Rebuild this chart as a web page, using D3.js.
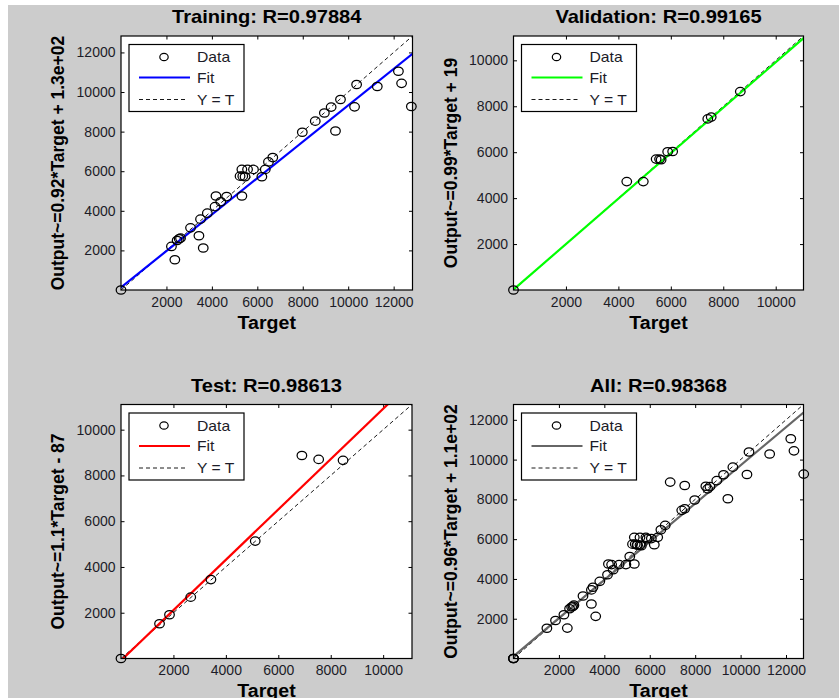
<!DOCTYPE html>
<html>
<head>
<meta charset="utf-8">
<script src="https://cdn.jsdelivr.net/npm/d3@7"></script>
<style>
  body { margin: 0; background: #fff; }
  svg { display: block; }
  text { font-family: Arial, "Liberation Sans", sans-serif; }
</style>
</head>
<body>
<svg id="fig" width="839" height="698"></svg>
<script>
// Regression data: network targets vs. outputs per subset
const trainTarget = [0, 2220, 2370, 2470, 2560, 2620, 3060, 3430, 3500, 3620, 3800, 4140, 4180, 4390, 4650, 5320, 5240, 5360, 5320, 5460, 5570, 5830, 6200, 6350, 6490, 6680, 7980, 8550, 8950, 9250, 9660, 9440, 10280, 10370, 11280, 12210, 12350, 12780];
const trainOutput = [0, 2200, 1530, 2500, 2590, 2620, 3140, 2740, 3580, 2120, 3880, 4210, 4750, 4460, 4720, 4750, 5750, 5750, 6090, 5720, 6090, 6090, 5720, 6090, 6470, 6690, 7970, 8530, 8940, 9240, 9620, 8030, 9250, 10380, 10280, 11050, 10440, 9270];

const valTarget = [0, 4320, 4950, 5440, 5570, 5630, 5880, 6070, 7410, 7540, 8650];
const valOutput = [0, 4720, 4720, 5700, 5700, 5670, 6020, 6030, 7450, 7530, 8640];

const testTarget = [0, 1470, 1850, 2660, 3430, 5120, 6900, 7540, 8470];
const testOutput = [0, 1520, 1910, 2680, 3450, 5130, 8870, 8700, 8660];

// "All" combines every subset
const allTarget = trainTarget.concat(valTarget, testTarget);
const allOutput = trainOutput.concat(valOutput, testOutput);

const ticks12k = [2000, 4000, 6000, 8000, 10000, 12000];
const ticks10k = [2000, 4000, 6000, 8000, 10000];

const panelTitles = ["Training: R=0.97884", "Validation: R=0.99165", "Test: R=0.98613", "All: R=0.98368"];
const fitLabels = ["Output~=0.92*Target + 1.3e+02", "Output~=0.99*Target + 19", "Output~=1.1*Target - 87", "Output~=0.96*Target + 1.1e+02"];
const fitSlope = [0.92, 0.99, 1.1, 0.96];
const fitIntercept = [130, 19, -87, 110];
const axisMax = [12830, 11060, 11100, 12770];
const legendNames = ["Data", "Fit", "Y = T"];

// ---- drawing ----
const svg = d3.select("#fig");
svg.append("rect").attr("x", 8).attr("y", 5).attr("width", 831).attr("height", 693).attr("fill", "#cccccc");

const fitColors = ["#0000ff", "#00ff00", "#ff0000", "#666666"];
const boxes = [
  { l: 121, t: 36, r: 412.5, b: 290 },
  { l: 513.5, t: 36, r: 803.5, b: 290 },
  { l: 121, t: 404.5, r: 412, b: 658.5 },
  { l: 513.5, t: 404.5, r: 803.5, b: 658.5 }
];
const panelData = [
  { tx: trainTarget, ty: trainOutput, ticks: ticks12k },
  { tx: valTarget, ty: valOutput, ticks: ticks10k },
  { tx: testTarget, ty: testOutput, ticks: ticks10k },
  { tx: allTarget, ty: allOutput, ticks: ticks12k }
];

const stretch = 1.15;
const tickColor = "#1c1c28";

panelData.forEach((pd, i) => {
  const bx = boxes[i];
  const x = d3.scaleLinear().domain([0, axisMax[i]]).range([bx.l, bx.r]);
  const y = d3.scaleLinear().domain([0, axisMax[i]]).range([bx.b, bx.t]);
  const g = svg.append("g");

  g.append("rect").attr("x", bx.l).attr("y", bx.t)
    .attr("width", bx.r - bx.l).attr("height", bx.b - bx.t).attr("fill", "#fff");

  const clipId = "clip" + i;
  g.append("clipPath").attr("id", clipId).append("rect")
    .attr("x", bx.l).attr("y", bx.t).attr("width", bx.r - bx.l).attr("height", bx.b - bx.t);

  // axes with inward ticks on all four sides
  const fmt = d3.format("d");
  const axB = g.append("g").attr("transform", `translate(0,${bx.b})`)
    .call(d3.axisBottom(x).tickValues(pd.ticks).tickFormat(fmt).tickSizeInner(-3.5).tickSizeOuter(0).tickPadding(7));
  const axL = g.append("g").attr("transform", `translate(${bx.l},0)`)
    .call(d3.axisLeft(y).tickValues(pd.ticks).tickFormat(fmt).tickSizeInner(-3.5).tickSizeOuter(0).tickPadding(5.5));
  const axT = g.append("g").attr("transform", `translate(0,${bx.t})`)
    .call(d3.axisTop(x).tickValues(pd.ticks).tickFormat("").tickSizeInner(-3.5).tickSizeOuter(0));
  const axR = g.append("g").attr("transform", `translate(${bx.r},0)`)
    .call(d3.axisRight(y).tickValues(pd.ticks).tickFormat("").tickSizeInner(-3.5).tickSizeOuter(0));
  [axB, axL, axT, axR].forEach(a => {
    a.select(".domain").remove();
    a.selectAll("line").attr("stroke", "#000");
    a.selectAll("text").attr("font-size", 14).attr("fill", tickColor)
      .attr("font-family", "Arial, 'Liberation Sans', sans-serif");
  });

  const plot = g.append("g").attr("clip-path", `url(#${clipId})`);
  const maxV = axisMax[i];
  // Y = T reference
  plot.append("line")
    .attr("x1", x(0)).attr("y1", y(0)).attr("x2", x(maxV)).attr("y2", y(maxV))
    .attr("stroke", "#000").attr("stroke-width", 0.9).attr("stroke-dasharray", "4,3");
  // linear fit
  plot.append("line")
    .attr("x1", x(0)).attr("y1", y(fitIntercept[i]))
    .attr("x2", x(maxV)).attr("y2", y(fitSlope[i] * maxV + fitIntercept[i]))
    .attr("stroke", fitColors[i]).attr("stroke-width", 2.2);

  // data markers
  g.append("g").selectAll("ellipse").data(d3.range(pd.tx.length)).join("ellipse")
    .attr("cx", k => x(pd.tx[k])).attr("cy", k => y(pd.ty[k]))
    .attr("rx", 4.8).attr("ry", 4.2)
    .attr("fill", "none").attr("stroke", "#000").attr("stroke-width", 1.25);

  // frame
  g.append("rect").attr("x", bx.l).attr("y", bx.t)
    .attr("width", bx.r - bx.l).attr("height", bx.b - bx.t)
    .attr("fill", "none").attr("stroke", "#000").attr("stroke-width", 1.2);

  // title and axis labels
  const cx = (bx.l + bx.r) / 2;
  g.append("text").attr("transform", `translate(${cx},${bx.t - 12.7}) scale(${stretch},1)`)
    .attr("text-anchor", "middle").attr("font-size", 17.5).attr("font-weight", "bold").attr("fill", "#000")
    .text(panelTitles[i]);
  g.append("text").attr("transform", `translate(${cx},${bx.b + 38.5}) scale(1.12,1)`)
    .attr("text-anchor", "middle").attr("font-size", 17.5).attr("font-weight", "bold").attr("fill", "#000")
    .text("Target");
  g.append("text").attr("transform", `translate(${bx.l - 57},${(bx.t + bx.b) / 2}) rotate(-90)`)
    .attr("text-anchor", "middle").attr("font-size", 17.5).attr("font-weight", "bold").attr("fill", "#000")
    .text(fitLabels[i]);

  // legend
  const lx = bx.l + 8, ly = bx.t + 8.5;
  const lg = g.append("g").attr("transform", `translate(${lx},${ly})`);
  lg.append("rect").attr("width", 115).attr("height", 67)
    .attr("fill", "#fff").attr("stroke", "#000").attr("stroke-width", 1.2);
  const rowY = [12.5, 33, 55];
  lg.append("ellipse").attr("cx", 35).attr("cy", rowY[0]).attr("rx", 4.2).attr("ry", 3.7)
    .attr("fill", "none").attr("stroke", "#000").attr("stroke-width", 1.2);
  lg.append("line").attr("x1", 10).attr("x2", 61).attr("y1", rowY[1]).attr("y2", rowY[1])
    .attr("stroke", fitColors[i]).attr("stroke-width", 2.2);
  lg.append("line").attr("x1", 10).attr("x2", 56).attr("y1", rowY[2]).attr("y2", rowY[2])
    .attr("stroke", "#000").attr("stroke-width", 0.9).attr("stroke-dasharray", "4,3");
  legendNames.forEach((name, k) => {
    lg.append("text").attr("transform", `translate(68,${rowY[k] + 5}) scale(1.12,1)`)
      .attr("font-size", 14).attr("fill", tickColor).text(name);
  });
});
</script>
</body>
</html>
